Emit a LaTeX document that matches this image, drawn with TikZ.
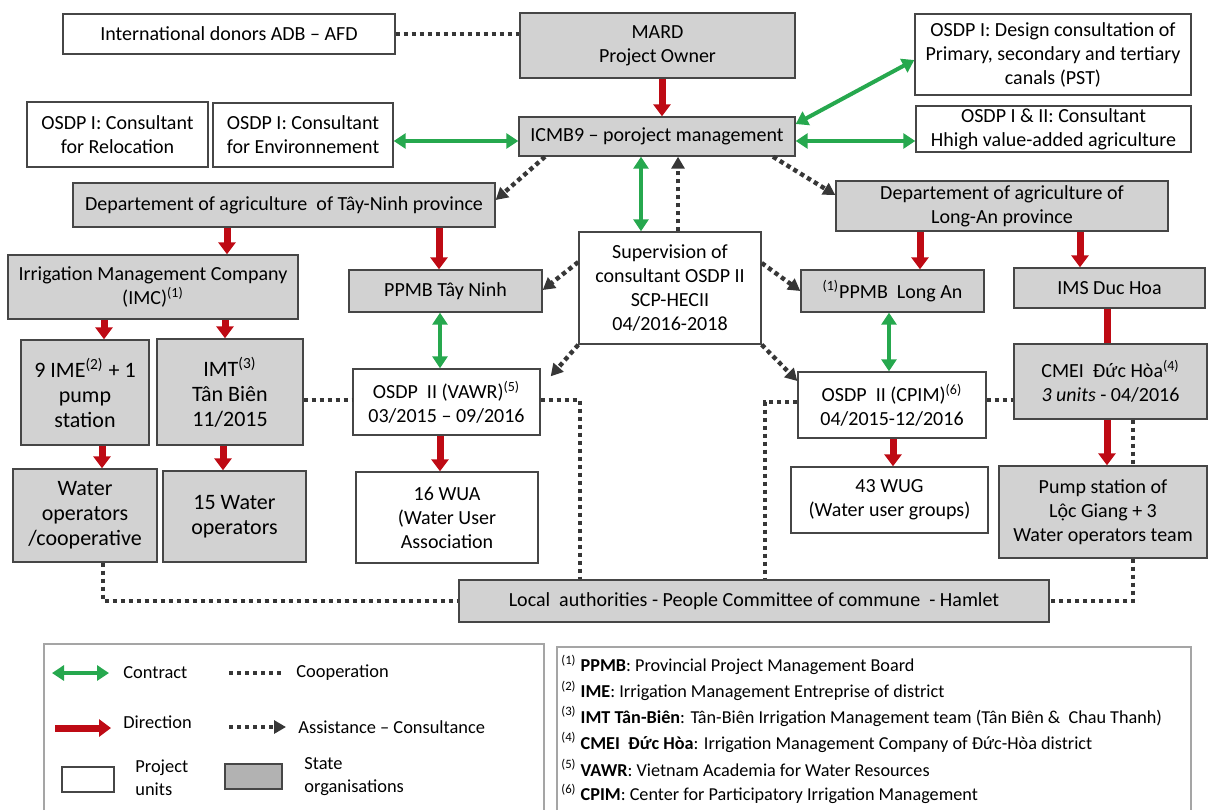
\documentclass[tikz,border=0pt]{standalone}
\usepackage{fontspec}
\setmainfont{Carlito}
\usetikzlibrary{arrows.meta}
\definecolor{stategray}{RGB}{210,210,210}
\definecolor{legendgray}{RGB}{178,178,178}
\definecolor{contractgreen}{RGB}{38,168,78}
\definecolor{directionred}{RGB}{190,10,20}
\definecolor{dotgray}{RGB}{55,55,55}
\definecolor{edgegray}{RGB}{70,70,70}
\definecolor{framegray}{RGB}{165,165,165}
\tikzset{
  unit/.style={draw=edgegray, line width=0.7pt, fill=white, align=center, inner sep=1pt, font=\fontsize{10}{12}\selectfont},
  state/.style={unit, fill=stategray},
  bigtext/.style={font=\fontsize{11}{12.5}\selectfont},
  contract/.style={draw=contractgreen, line width=2pt, {Triangle[width=7.5pt,length=6pt]}-{Triangle[width=7.5pt,length=6pt]}},
  direction/.style={draw=directionred, line width=3.5pt, -{Triangle[width=8.5pt,length=6pt]}},
  coop/.style={draw=dotgray, line width=2.2pt, dash pattern=on 2.2pt off 1.8pt},
  assist/.style={coop, -{Triangle[width=6.5pt,length=6pt]}},
  legend/.style={anchor=west, align=left, inner sep=0pt, font=\fontsize{9.2}{11.5}\selectfont},
  note/.style={anchor=west, inner sep=0pt, font=\fontsize{9.1}{11}\selectfont},
}
\begin{document}
\begin{tikzpicture}[x=0.5pt, y=-0.5pt]
  \useasboundingbox (0,0) rectangle (1209,810);
  % organisations
  \node[unit, minimum width=166pt, minimum height=20pt] (donors) at (229,34) {International donors ADB – AFD};
  \node[state, minimum width=137.5pt, minimum height=32.5pt] (mard) at (657.5,45.5) {MARD\\Project Owner};
  \node[unit, minimum width=138pt, minimum height=40.5pt] (design) at (1053,54.5) {OSDP I: Design consultation of\\Primary, secondary and tertiary\\canals (PST)};
  \node[unit, minimum width=90.5pt, minimum height=32.5pt] (reloc) at (117.5,134.5) {OSDP I: Consultant\\for Relocation};
  \node[unit, minimum width=90pt, minimum height=32pt] (env) at (303,135) {OSDP I: Consultant\\for Environnement};
  \node[state, minimum width=138pt, minimum height=19.5pt] (icmb) at (657,136.5) {ICMB9 – poroject management};
  \node[unit, minimum width=137.5pt, minimum height=23pt] (hva) at (1053.5,129) {OSDP I \& II: Consultant\\Hhigh value-added agriculture};
  \node[state, minimum width=211pt, minimum height=22pt] (dtn) at (284,205) {Departement of agriculture\ \ of Tây-Ninh province};
  \node[state, minimum width=166pt, minimum height=25pt] (dla) at (1002,206) {Departement of agriculture of\\Long-An province};
  \node[state, minimum width=145pt, minimum height=32pt] (imc) at (153,287) {Irrigation Management Company\\(IMC)\textsuperscript{(1)}};
  \node[state, minimum width=96.5pt, minimum height=21pt] (ppmbtn) at (445.5,291) {PPMB Tây Ninh};
  \node[unit, minimum width=91pt, minimum height=56pt] (sup) at (670,288) {Supervision of\\consultant OSDP II\\SCP-HECII\\04/2016-2018};
  \node[state, minimum width=91.5pt, minimum height=21pt] (ppmbla) at (892.5,291) {\textsuperscript{(1)}PPMB\ \ Long An};
  \node[state, minimum width=95.5pt, minimum height=20pt] (ims) at (1109.5,288) {IMS Duc Hoa};
  \node[state, bigtext, minimum width=64pt, minimum height=52.5pt] (ime) at (85,392.5) {9 IME\textsuperscript{(2)} + 1\\pump\\station};
  \node[state, bigtext, minimum width=73pt, minimum height=53pt] (imt) at (230,392) {IMT\textsuperscript{(3)}\\Tân Biên\\11/2015};
  \node[unit, minimum width=93.5pt, minimum height=33pt] (vawr) at (446.5,402) {OSDP\ \ II (VAWR)\textsuperscript{(5)}\\03/2015 – 09/2016};
  \node[unit, minimum width=94pt, minimum height=33pt] (cpim) at (892,405) {OSDP\ \ II (CPIM)\textsuperscript{(6)}\\04/2015-12/2016};
  \node[state, minimum width=96.5pt, minimum height=37.5pt] (cmei) at (1110.5,381.5) {CMEI\ \ Đức Hòa\textsuperscript{(4)}\\\textit{3 units} - 04/2016};
  \node[state, bigtext, minimum width=72pt, minimum height=46.5pt] (wop) at (85,515.5) {Water\\operators\\/cooperative};
  \node[state, bigtext, minimum width=71.5pt, minimum height=45.5pt] (wopt) at (234.5,516.5) {15 Water\\operators};
  \node[unit, minimum width=91pt, minimum height=45.5pt] (wua) at (447,517.5) {16 WUA\\(Water User\\Association};
  \node[unit, minimum width=98.5pt, minimum height=33pt] (wug) at (889.5,500) {43 WUG\\(Water user groups)};
  \node[state, minimum width=104pt, minimum height=46pt] (pump) at (1103,512) {Pump station of\\Lộc Giang + 3\\Water operators team};
  \node[state, minimum width=295pt, minimum height=21pt] (local) at (754,601) {Local\ \ authorities - People Committee of commune\ \ - Hamlet};

  % direction
  \draw[direction] (mard.south -| 662,0) -- (icmb.north -| 662,0);
  \draw[direction] (dtn.south -| 227,0) -- (imc.north -| 227,0);
  \draw[direction] (dtn.south -| 439,0) -- (ppmbtn.north -| 439,0);
  \draw[direction] (dla.south -| 920,0) -- (ppmbla.north -| 920,0);
  \draw[direction] (dla.south -| 1080,0) -- (ims.north -| 1080,0);
  \draw[direction, -] (ims.south -| 1107,0) -- (cmei.north -| 1107,0);
  \draw[direction] (cmei.south -| 1107,0) -- (pump.north -| 1107,0);
  \draw[direction] (imc.south -| 104,0) -- (ime.north -| 104,0);
  \draw[direction] (imc.south -| 225,0) -- (imt.north -| 225,0);
  \draw[direction] (ime.south -| 102,0) -- (wop.north -| 102,0);
  \draw[direction] (imt.south -| 223,0) -- (wopt.north -| 223,0);
  \draw[direction] (vawr.south -| 440,0) -- (wua.north -| 440,0);
  \draw[direction] (cpim.south -| 893,0) -- (wug.north -| 893,0);

  % contract
  \draw[contract] (env.east |- 0,141) -- (icmb.west |- 0,141);
  \draw[contract] (icmb.east |- 0,124) -- (design.west |- 0,60);
  \draw[contract] (icmb.east |- 0,141) -- (hva.west |- 0,141);
  \draw[contract] (icmb.south -| 641,0) -- (sup.north -| 641,0);
  \draw[contract] (ppmbtn.south -| 440,0) -- (vawr.north -| 440,0);
  \draw[contract] (ppmbla.south -| 889,0) -- (cpim.north -| 889,0);

  % assistance
  \draw[assist] (icmb.south -| 545,0) -- (dtn.east |- 0,200);
  \draw[assist] (icmb.south -| 773,0) -- (dla.west |- 0,195);
  \draw[assist] (sup.north -| 678,0) -- (icmb.south -| 678,0);
  \draw[assist] (sup.west |- 0,262) -- (ppmbtn.east |- 0,290);
  \draw[assist] (sup.south west) -- ([xshift=5pt,yshift=-4pt]vawr.north east);
  \draw[assist] (sup.east |- 0,263) -- (ppmbla.west |- 0,291);
  \draw[assist] (sup.south east) -- (cpim.west |- 0,381);

  % cooperation
  \draw[coop] (donors.east) -- (donors.east -| mard.west);
  \draw[coop] (imt.east |- 0,400) -- (vawr.west |- 0,400);
  \draw[coop] (vawr.east |- 0,400) -| (local.north -| 580,0);
  \draw[coop] (cpim.west |- 0,402) -| (local.north -| 765,0);
  \draw[coop] (cpim.east |- 0,400) -- (cmei.west |- 0,400);
  \draw[coop] (cmei.south -| 1133,0) -- (pump.north -| 1133,0);
  \draw[coop] (wop.south -| 103,0) |- (local.west);
  \draw[coop] (pump.south -| 1133,0) |- (local.east);

  % legend
  \draw[draw=framegray, line width=0.6pt] (44,810) |- (544,644) -- (544,810);
  \node[legend] (lcontract) at (123,673) {Contract};
  \draw[contract] (52,673) -- ([xshift=-7pt]lcontract.west);
  \node[legend] (lcoop) at (296,673) {Cooperation};
  \draw[coop] (229,673) -- ([xshift=-7pt]lcoop.west);
  \node[legend] (ldir) at (123,722) {Direction};
  \draw[direction] (55,728) -- ([xshift=-6pt,yshift=-3pt]ldir.west);
  \node[legend] (lassist) at (298,727) {Assistance – Consultance};
  \draw[assist] (229,727) -- ([xshift=-6pt]lassist.west);
  \node[unit, minimum width=26pt, minimum height=12.5pt] (lunit) at (88,779.5) {};
  \node[legend] (lunittext) at (135,778) {Project\\units};
  \node[unit, fill=legendgray, minimum width=28.5pt, minimum height=12.5pt] (lstate) at (253.5,776.5) {};
  \node[legend] (lstatetext) at (304,777) {State\\organisations};

  % notes
  \draw[draw=framegray, line width=0.6pt] (557,810) |- (1191,647) -- (1191,810);
  \foreach \k/\abbr/\expl in {1/PPMB/Provincial Project Management Board,
      2/IME/Irrigation Management Entreprise of district,
      3/IMT Tân-Biên/Tân-Biên Irrigation Management team (Tân Biên \&\ \ Chau Thanh),
      4/CMEI\ \ Đức Hòa/Irrigation Management Company of Đức-Hòa district,
      5/VAWR/Vietnam Academia for Water Resources,
      6/CPIM/Center for Participatory Irrigation Management}
    \node[note] (note\k) at (561,{665+25.8*(\k-1)}) {\textsuperscript{(\k)} \textbf{\abbr}: \expl};
\end{tikzpicture}
\end{document}
